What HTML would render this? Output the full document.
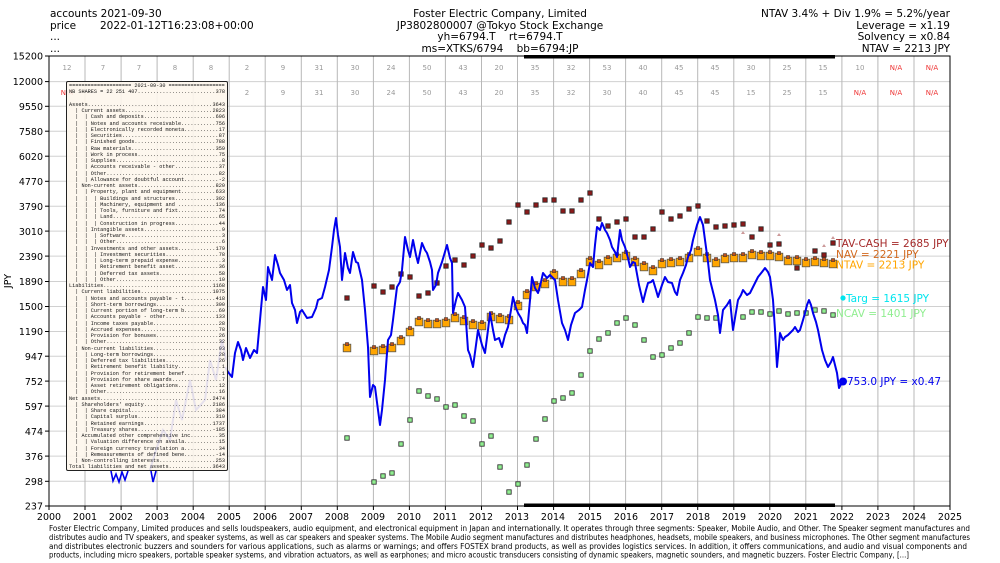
<!DOCTYPE html>
<html><head><meta charset="utf-8"><style>
html,body{margin:0;padding:0;background:#fff;width:1000px;height:563px;overflow:hidden}
svg{position:absolute;left:0;top:0}
#box{position:absolute;left:66px;top:81px;width:156px;height:386px;border:1px solid #222;border-radius:2px;background:rgba(253,246,236,0.9);padding:1px 2px;font-family:"Liberation Mono",monospace;font-size:5.2px;line-height:6.25px;color:#111;overflow:hidden}
.l{position:relative;white-space:nowrap;overflow:hidden;height:6.25px}
.v{position:absolute;right:0;top:0;background:rgb(253,246,236)}
</style></head><body>
<svg width="1000" height="563" xmlns="http://www.w3.org/2000/svg" font-family="DejaVu Sans, Liberation Sans, sans-serif">
<defs>
<rect id="r" x="-2.2" y="-2.2" width="4.4" height="4.4" fill="#8b1a1a" stroke="#222" stroke-width="0.8"/>
<rect id="g" x="-2.2" y="-2.2" width="4.4" height="4.4" fill="#90ee90" stroke="#222" stroke-width="0.8"/>
<g id="o"><rect x="-3.8" y="-3.8" width="7.6" height="7.6" fill="#ffa500" stroke="#555" stroke-width="0.8"/><rect x="-1.6" y="-5.5" width="3.2" height="3.2" fill="#c0501a" stroke="#333" stroke-width="0.5"/></g>
</defs>
<g stroke="#d0d0d0" stroke-width="1">
<line x1="49" x2="950" y1="81.6" y2="81.6"/><line x1="49" x2="950" y1="106.3" y2="106.3"/><line x1="49" x2="950" y1="131.2" y2="131.2"/><line x1="49" x2="950" y1="156.2" y2="156.2"/><line x1="49" x2="950" y1="181.3" y2="181.3"/><line x1="49" x2="950" y1="206.2" y2="206.2"/><line x1="49" x2="950" y1="231.1" y2="231.1"/><line x1="49" x2="950" y1="256.1" y2="256.1"/><line x1="49" x2="950" y1="281.5" y2="281.5"/><line x1="49" x2="950" y1="306.5" y2="306.5"/><line x1="49" x2="950" y1="331.5" y2="331.5"/><line x1="49" x2="950" y1="356.2" y2="356.2"/><line x1="49" x2="950" y1="381.1" y2="381.1"/><line x1="49" x2="950" y1="406.1" y2="406.1"/><line x1="49" x2="950" y1="431.1" y2="431.1"/><line x1="49" x2="950" y1="456.1" y2="456.1"/><line x1="49" x2="950" y1="481.3" y2="481.3"/>
</g>
<g stroke="#b8b8b8" stroke-width="1">
<line y1="56" y2="506" x1="85" x2="85"/><line y1="56" y2="506" x1="121.1" x2="121.1"/><line y1="56" y2="506" x1="157.1" x2="157.1"/><line y1="56" y2="506" x1="193.2" x2="193.2"/><line y1="56" y2="506" x1="229.2" x2="229.2"/><line y1="56" y2="506" x1="265.2" x2="265.2"/><line y1="56" y2="506" x1="301.3" x2="301.3"/><line y1="56" y2="506" x1="337.3" x2="337.3"/><line y1="56" y2="506" x1="373.4" x2="373.4"/><line y1="56" y2="506" x1="409.4" x2="409.4"/><line y1="56" y2="506" x1="445.4" x2="445.4"/><line y1="56" y2="506" x1="481.5" x2="481.5"/><line y1="56" y2="506" x1="517.5" x2="517.5"/><line y1="56" y2="506" x1="553.6" x2="553.6"/><line y1="56" y2="506" x1="589.6" x2="589.6"/><line y1="56" y2="506" x1="625.6" x2="625.6"/><line y1="56" y2="506" x1="661.7" x2="661.7"/><line y1="56" y2="506" x1="697.7" x2="697.7"/><line y1="56" y2="506" x1="733.8" x2="733.8"/><line y1="56" y2="506" x1="769.8" x2="769.8"/><line y1="56" y2="506" x1="805.8" x2="805.8"/><line y1="56" y2="506" x1="841.9" x2="841.9"/><line y1="56" y2="506" x1="877.9" x2="877.9"/><line y1="56" y2="506" x1="914" x2="914"/>
</g>
<g font-size="7" fill="#999" text-anchor="middle">
<text x="67" y="70">12</text><text x="103" y="70">7</text><text x="139" y="70">7</text><text x="175" y="70">8</text><text x="211" y="70">8</text><text x="247" y="70">2</text><text x="283" y="70">9</text><text x="319" y="70">31</text><text x="355" y="70">30</text><text x="391" y="70">24</text><text x="427" y="70">50</text><text x="463" y="70">43</text><text x="499" y="70">20</text><text x="535" y="70">35</text><text x="571" y="70">32</text><text x="607" y="70">53</text><text x="643" y="70">40</text><text x="679" y="70">45</text><text x="715" y="70">45</text><text x="751" y="70">30</text><text x="787" y="70">25</text><text x="823" y="70">15</text><text x="860" y="70">10</text><text x="896" y="70" fill="#e33">N/A</text><text x="932" y="70" fill="#e33">N/A</text>
<text x="67" y="95" fill="#e33">N/A</text><text x="247" y="95">2</text><text x="283" y="95">9</text><text x="319" y="95">31</text><text x="355" y="95">30</text><text x="391" y="95">24</text><text x="427" y="95">50</text><text x="463" y="95">43</text><text x="499" y="95">20</text><text x="535" y="95">35</text><text x="571" y="95">32</text><text x="607" y="95">30</text><text x="643" y="95">40</text><text x="679" y="95">45</text><text x="715" y="95">45</text><text x="751" y="95">15</text><text x="787" y="95">25</text><text x="823" y="95">15</text><text x="860" y="95" fill="#e33">N/A</text><text x="896" y="95" fill="#e33">N/A</text><text x="932" y="95" fill="#e33">N/A</text>
</g>
<rect x="524" y="55" width="311" height="3.5" fill="#000"/>
<rect x="524" y="503.5" width="311" height="3.5" fill="#000"/>
<polyline fill="none" stroke="#0000ee" stroke-width="1.6" points="111,471 113,481 116,474 119,482 122,472 125,480 128,471"/>
<polyline fill="none" stroke="#0000ee" stroke-width="1.6" points="151,471 153,482 156,471"/>
<g>
<use href="#g" x="347" y="438"/><use href="#g" x="374" y="482"/><use href="#g" x="383" y="476"/><use href="#g" x="392" y="473"/><use href="#g" x="401" y="444"/><use href="#g" x="410" y="420"/><use href="#g" x="419" y="391"/><use href="#g" x="428" y="396"/><use href="#g" x="437" y="399"/><use href="#g" x="446" y="407"/><use href="#g" x="455" y="405"/><use href="#g" x="464" y="416"/><use href="#g" x="473" y="421"/><use href="#g" x="482" y="444"/><use href="#g" x="491" y="436"/><use href="#g" x="500" y="467"/><use href="#g" x="509" y="492"/><use href="#g" x="518" y="484"/><use href="#g" x="527" y="465"/><use href="#g" x="536" y="439"/><use href="#g" x="545" y="419"/><use href="#g" x="554" y="401"/><use href="#g" x="563" y="398"/><use href="#g" x="572" y="393"/><use href="#g" x="581" y="375"/><use href="#g" x="590" y="351"/><use href="#g" x="599" y="339"/><use href="#g" x="608" y="333"/><use href="#g" x="617" y="323"/><use href="#g" x="626" y="318"/><use href="#g" x="635" y="325"/><use href="#g" x="644" y="340"/><use href="#g" x="653" y="357"/><use href="#g" x="662" y="355"/><use href="#g" x="671" y="348"/><use href="#g" x="680" y="343"/><use href="#g" x="689" y="333"/><use href="#g" x="698" y="317"/><use href="#g" x="707" y="318"/><use href="#g" x="716" y="318"/><use href="#g" x="743" y="317"/><use href="#g" x="752" y="312"/><use href="#g" x="761" y="312"/><use href="#g" x="770" y="314"/><use href="#g" x="779" y="311"/><use href="#g" x="788" y="314"/><use href="#g" x="797" y="313"/><use href="#g" x="806" y="313"/><use href="#g" x="815" y="310"/><use href="#g" x="824" y="311"/><use href="#g" x="833" y="315"/>
<use href="#r" x="347" y="298"/><use href="#r" x="374" y="286"/><use href="#r" x="383" y="292"/><use href="#r" x="392" y="287"/><use href="#r" x="401" y="274"/><use href="#r" x="410" y="277"/><use href="#r" x="419" y="296"/><use href="#r" x="428" y="293"/><use href="#r" x="437" y="283"/><use href="#r" x="446" y="266"/><use href="#r" x="455" y="260"/><use href="#r" x="464" y="265"/><use href="#r" x="473" y="256"/><use href="#r" x="482" y="245"/><use href="#r" x="491" y="248"/><use href="#r" x="500" y="241"/><use href="#r" x="509" y="222"/><use href="#r" x="518" y="205"/><use href="#r" x="527" y="212"/><use href="#r" x="536" y="205"/><use href="#r" x="545" y="200"/><use href="#r" x="554" y="200"/><use href="#r" x="563" y="211"/><use href="#r" x="572" y="211"/><use href="#r" x="581" y="200"/><use href="#r" x="590" y="193"/><use href="#r" x="599" y="219"/><use href="#r" x="608" y="226"/><use href="#r" x="617" y="222"/><use href="#r" x="626" y="219"/><use href="#r" x="635" y="237"/><use href="#r" x="644" y="237"/><use href="#r" x="653" y="229"/><use href="#r" x="662" y="212"/><use href="#r" x="671" y="219"/><use href="#r" x="680" y="216"/><use href="#r" x="689" y="209"/><use href="#r" x="698" y="206"/><use href="#r" x="707" y="221"/><use href="#r" x="716" y="227"/><use href="#r" x="725" y="226"/><use href="#r" x="734" y="225"/><use href="#r" x="743" y="224"/><use href="#r" x="752" y="237"/><use href="#r" x="761" y="229"/><use href="#r" x="770" y="245"/><use href="#r" x="779" y="244"/><use href="#r" x="797" y="268"/><use href="#r" x="815" y="251"/><use href="#r" x="824" y="255"/><use href="#r" x="833" y="243"/>
<g fill="#c99"><path d="M743 231l2 3h-4z"/><path d="M779 233l2 3h-4z"/><path d="M806 257l2 3h-4z"/><path d="M824 244l2 3h-4z"/><path d="M833 236l2 3h-4z"/></g>
<use href="#o" x="347" y="348"/><use href="#o" x="374" y="351"/><use href="#o" x="383" y="350"/><use href="#o" x="392" y="348"/><use href="#o" x="401" y="341"/><use href="#o" x="410" y="332"/><use href="#o" x="419" y="322"/><use href="#o" x="428" y="324"/><use href="#o" x="437" y="324"/><use href="#o" x="446" y="323"/><use href="#o" x="455" y="318"/><use href="#o" x="464" y="321"/><use href="#o" x="473" y="325"/><use href="#o" x="482" y="326"/><use href="#o" x="491" y="317"/><use href="#o" x="500" y="319"/><use href="#o" x="509" y="320"/><use href="#o" x="518" y="306"/><use href="#o" x="527" y="295"/><use href="#o" x="536" y="287"/><use href="#o" x="545" y="284"/><use href="#o" x="554" y="275"/><use href="#o" x="563" y="282"/><use href="#o" x="572" y="282"/><use href="#o" x="581" y="274"/><use href="#o" x="590" y="262"/><use href="#o" x="599" y="265"/><use href="#o" x="608" y="261"/><use href="#o" x="617" y="258"/><use href="#o" x="626" y="256"/><use href="#o" x="635" y="262"/><use href="#o" x="644" y="267"/><use href="#o" x="653" y="271"/><use href="#o" x="662" y="264"/><use href="#o" x="671" y="263"/><use href="#o" x="680" y="262"/><use href="#o" x="689" y="258"/><use href="#o" x="698" y="252"/><use href="#o" x="707" y="258"/><use href="#o" x="716" y="263"/><use href="#o" x="725" y="259"/><use href="#o" x="734" y="258"/><use href="#o" x="743" y="258"/><use href="#o" x="752" y="255"/><use href="#o" x="761" y="256"/><use href="#o" x="770" y="256"/><use href="#o" x="779" y="257"/><use href="#o" x="788" y="261"/><use href="#o" x="797" y="261"/><use href="#o" x="806" y="263"/><use href="#o" x="815" y="262"/><use href="#o" x="824" y="263"/><use href="#o" x="833" y="264"/>
</g>
<polyline fill="none" stroke="#0000ee" stroke-width="2" stroke-linejoin="round" points="225,367 228,372 232,377 235,353 238,342 241,350 243,360 246,348 250,358 254,350 257,353 260,320 263,287 266,300 268,267 272,280 275,255 278,265 280,273 284,280 287,290 290,285 292,303 295,310 297,323 300,312 302,310 307,318 312,317 316,308 318,300 322,298 325,287 329,270 332,247 334,230 336,218 338,235 340,247 342,280 345,253 348,268 350,273 353,252 356,262 358,263 362,280 365,310 368,347 370,397 373,385 375,387 378,410 380,425 382,410 385,380 388,340 391,335 393,320 397,287 400,282 402,270 405,237 408,250 410,257 413,240 416,255 418,263 422,243 425,250 427,253 430,262 432,270 433,290 436,285 438,273 442,262 447,245 450,258 452,263 453,313 456,300 458,293 462,300 465,307 468,350 470,355 473,367 476,345 478,330 482,345 485,353 488,330 490,313 493,330 495,340 499,338 502,347 505,335 508,327 511,310 513,297 516,308 518,313 521,318 523,323 525,325 527,333 530,300 532,277 535,288 538,293 541,282 543,273 547,278 550,275 553,278 555,280 558,300 562,323 565,330 568,340 571,325 575,313 579,310 582,307 585,290 587,280 590,263 593,267 595,245 597,227 600,230 602,223 605,230 607,233 610,240 612,247 615,252 617,257 620,230 622,240 625,247 628,258 630,267 633,262 635,263 639,285 643,302 646,290 648,283 651,282 653,280 656,290 658,297 662,285 665,277 668,282 672,283 675,292 677,295 680,280 683,273 686,265 688,257 691,250 693,240 697,225 700,217 703,225 705,240 708,262 710,280 713,292 715,300 718,315 720,333 723,310 727,305 730,300 733,330 736,312 738,300 741,295 743,290 747,295 750,293 754,285 758,277 762,272 765,268 768,272 770,277 773,300 775,330 777,367 779,345 780,333 783,340 785,337 788,335 790,333 793,330 795,327 798,332 800,330 803,320 805,313 807,305 809,300 811,305 813,313 816,322 818,330 820,340 822,350 825,360 828,367 831,362 833,357 835,365 837,373 839,388 841,384 843,382"/>
<circle cx="843" cy="381.5" r="4" fill="#0000ee"/>
<circle cx="843" cy="298" r="2.6" fill="#00e5ee"/>
<g font-size="10.5">
<text x="836" y="247" fill="#a52a2a">TAV-CASH = 2685 JPY</text>
<text x="836" y="258" fill="#d2691e">NAV = 2221 JPY</text>
<text x="836" y="268.5" fill="#ffa500">NTAV = 2213 JPY</text>
<text x="846" y="302" fill="#00e5ee">Targ = 1615 JPY</text>
<text x="836" y="317" fill="#90ee90">NCAV = 1401 JPY</text>
<text x="847" y="385" fill="#0000ee">753.0 JPY = x0.47</text>
</g>
<rect x="49" y="56" width="901" height="450" fill="none" stroke="#000" stroke-width="1"/>
<g stroke="#000"><line x1="45" x2="49" y1="56" y2="56"/><line x1="45" x2="49" y1="81.6" y2="81.6"/><line x1="45" x2="49" y1="106.3" y2="106.3"/><line x1="45" x2="49" y1="131.2" y2="131.2"/><line x1="45" x2="49" y1="156.2" y2="156.2"/><line x1="45" x2="49" y1="181.3" y2="181.3"/><line x1="45" x2="49" y1="206.2" y2="206.2"/><line x1="45" x2="49" y1="231.1" y2="231.1"/><line x1="45" x2="49" y1="256.1" y2="256.1"/><line x1="45" x2="49" y1="281.5" y2="281.5"/><line x1="45" x2="49" y1="306.5" y2="306.5"/><line x1="45" x2="49" y1="331.5" y2="331.5"/><line x1="45" x2="49" y1="356.2" y2="356.2"/><line x1="45" x2="49" y1="381.1" y2="381.1"/><line x1="45" x2="49" y1="406.1" y2="406.1"/><line x1="45" x2="49" y1="431.1" y2="431.1"/><line x1="45" x2="49" y1="456.1" y2="456.1"/><line x1="45" x2="49" y1="481.3" y2="481.3"/><line x1="45" x2="49" y1="506" y2="506"/></g>
<g font-size="9.5" text-anchor="end" fill="#000">
<text x="43" y="59.5">15200</text><text x="43" y="85">12000</text><text x="43" y="110">9550</text><text x="43" y="135">7580</text><text x="43" y="160">6020</text><text x="43" y="185">4770</text><text x="43" y="210">3790</text><text x="43" y="235">3010</text><text x="43" y="260">2390</text><text x="43" y="285">1890</text><text x="43" y="310">1500</text><text x="43" y="335">1190</text><text x="43" y="360">947</text><text x="43" y="385">752</text><text x="43" y="410">597</text><text x="43" y="435">474</text><text x="43" y="460">376</text><text x="43" y="485">298</text><text x="43" y="509.5">237</text>
</g>
<text x="11" y="281" font-size="9.5" text-anchor="middle" transform="rotate(-90 11 281)">JPY</text>
<g font-size="9.5" text-anchor="middle" fill="#000">
<text x="49" y="520">2000</text><text x="85" y="520">2001</text><text x="121" y="520">2002</text><text x="157" y="520">2003</text><text x="193" y="520">2004</text><text x="229" y="520">2005</text><text x="265" y="520">2006</text><text x="301" y="520">2007</text><text x="337" y="520">2008</text><text x="373" y="520">2009</text><text x="409" y="520">2010</text><text x="445" y="520">2011</text><text x="481" y="520">2012</text><text x="517" y="520">2013</text><text x="553" y="520">2014</text><text x="590" y="520">2015</text><text x="626" y="520">2016</text><text x="662" y="520">2017</text><text x="698" y="520">2018</text><text x="734" y="520">2019</text><text x="770" y="520">2020</text><text x="806" y="520">2021</text><text x="842" y="520">2022</text><text x="878" y="520">2023</text><text x="914" y="520">2024</text><text x="950" y="520">2025</text>
</g>
<g stroke="#000"><line y1="506" y2="510" x1="49" x2="49"/><line y1="506" y2="510" x1="85" x2="85"/><line y1="506" y2="510" x1="121.1" x2="121.1"/><line y1="506" y2="510" x1="157.1" x2="157.1"/><line y1="506" y2="510" x1="193.2" x2="193.2"/><line y1="506" y2="510" x1="229.2" x2="229.2"/><line y1="506" y2="510" x1="265.2" x2="265.2"/><line y1="506" y2="510" x1="301.3" x2="301.3"/><line y1="506" y2="510" x1="337.3" x2="337.3"/><line y1="506" y2="510" x1="373.4" x2="373.4"/><line y1="506" y2="510" x1="409.4" x2="409.4"/><line y1="506" y2="510" x1="445.4" x2="445.4"/><line y1="506" y2="510" x1="481.5" x2="481.5"/><line y1="506" y2="510" x1="517.5" x2="517.5"/><line y1="506" y2="510" x1="553.6" x2="553.6"/><line y1="506" y2="510" x1="589.6" x2="589.6"/><line y1="506" y2="510" x1="625.6" x2="625.6"/><line y1="506" y2="510" x1="661.7" x2="661.7"/><line y1="506" y2="510" x1="697.7" x2="697.7"/><line y1="506" y2="510" x1="733.8" x2="733.8"/><line y1="506" y2="510" x1="769.8" x2="769.8"/><line y1="506" y2="510" x1="805.8" x2="805.8"/><line y1="506" y2="510" x1="841.9" x2="841.9"/><line y1="506" y2="510" x1="877.9" x2="877.9"/><line y1="506" y2="510" x1="914" x2="914"/><line y1="506" y2="510" x1="950" x2="950"/></g>
<g font-size="7.6" fill="#000">
<text x="49" y="531" textLength="921" lengthAdjust="spacingAndGlyphs">Foster Electric Company, Limited produces and sells loudspeakers, audio equipment, and electronical equipment in Japan and internationally. It operates through three segments: Speaker, Mobile Audio, and Other. The Speaker segment manufactures and</text>
<text x="49" y="540" textLength="921" lengthAdjust="spacingAndGlyphs">distributes audio and TV speakers, and speaker systems, as well as car speakers and speaker systems. The Mobile Audio segment manufactures and distributes headphones, headsets, mobile speakers, and business microphones. The Other segment manufactures</text>
<text x="49" y="549" textLength="918" lengthAdjust="spacingAndGlyphs">and distributes electronic buzzers and sounders for various applications, such as alarms or warnings; and offers FOSTEX brand products, as well as provides logistics services. In addition, it offers communications, and audio and visual components and</text>
<text x="49" y="557.5" textLength="860" lengthAdjust="spacingAndGlyphs">products, including micro speakers, portable speaker systems, and vibration actuators, as well as earphones; and micro acoustic transducers consisting of dynamic speakers, magnetic sounders, and magnetic buzzers. Foster Electric Company, [...]</text>
</g>
<g font-size="10.5" fill="#000">
<text x="50" y="17">accounts 2021-09-30</text>
<text x="50" y="29">price</text><text x="100" y="29">2022-01-12T16:23:08+00:00</text>
<text x="50" y="40">...</text>
<text x="50" y="52">...</text>
</g>
<g font-size="10.5" fill="#000" text-anchor="middle">
<text x="500" y="17">Foster Electric Company, Limited</text>
<text x="500" y="29">JP3802800007 @Tokyo Stock Exchange</text>
<text x="500" y="40" xml:space="preserve">yh=6794.T    rt=6794.T</text>
<text x="500" y="52" xml:space="preserve">ms=XTKS/6794    bb=6794:JP</text>
</g>
<g font-size="10.5" fill="#000" text-anchor="end">
<text x="950" y="17">NTAV 3.4% + Div 1.9% = 5.2%/year</text>
<text x="950" y="29">Leverage = x1.19</text>
<text x="950" y="40">Solvency = x0.84</text>
<text x="950" y="52">NTAV = 2213 JPY</text>
</g>
</svg>
<div id="box">
<div class="l">==================== 2021-09-30 ====================</div>
<div class="l">NB SHARES = 22 251 407.............................<span class="v">378</span></div>
<div class="l">&nbsp;</div>
<div class="l">Assets..............................................<span class="v">3643</span></div>
<div class="l">&nbsp;&nbsp;| Current assets....................................<span class="v">2823</span></div>
<div class="l">&nbsp;&nbsp;| &nbsp;| Cash and deposits..............................<span class="v">696</span></div>
<div class="l">&nbsp;&nbsp;| &nbsp;| Notes and accounts receivable..................<span class="v">756</span></div>
<div class="l">&nbsp;&nbsp;| &nbsp;| Electronically recorded moneta.................<span class="v">17</span></div>
<div class="l">&nbsp;&nbsp;| &nbsp;| Securities.....................................<span class="v">87</span></div>
<div class="l">&nbsp;&nbsp;| &nbsp;| Finished goods.................................<span class="v">788</span></div>
<div class="l">&nbsp;&nbsp;| &nbsp;| Raw materials..................................<span class="v">359</span></div>
<div class="l">&nbsp;&nbsp;| &nbsp;| Work in process................................<span class="v">75</span></div>
<div class="l">&nbsp;&nbsp;| &nbsp;| Supplies.......................................<span class="v">8</span></div>
<div class="l">&nbsp;&nbsp;| &nbsp;| Accounts receivable - other....................<span class="v">37</span></div>
<div class="l">&nbsp;&nbsp;| &nbsp;| Other..........................................<span class="v">82</span></div>
<div class="l">&nbsp;&nbsp;| &nbsp;| Allowance for doubtful account.................<span class="v">-2</span></div>
<div class="l">&nbsp;&nbsp;| Non-current assets................................<span class="v">820</span></div>
<div class="l">&nbsp;&nbsp;| &nbsp;| Property, plant and equipment..................<span class="v">633</span></div>
<div class="l">&nbsp;&nbsp;| &nbsp;| &nbsp;| Buildings and structures....................<span class="v">302</span></div>
<div class="l">&nbsp;&nbsp;| &nbsp;| &nbsp;| Machinery, equipment and ...................<span class="v">136</span></div>
<div class="l">&nbsp;&nbsp;| &nbsp;| &nbsp;| Tools, furniture and fixt...................<span class="v">74</span></div>
<div class="l">&nbsp;&nbsp;| &nbsp;| &nbsp;| Land........................................<span class="v">65</span></div>
<div class="l">&nbsp;&nbsp;| &nbsp;| &nbsp;| Construction in progress....................<span class="v">44</span></div>
<div class="l">&nbsp;&nbsp;| &nbsp;| Intangible assets..............................<span class="v">9</span></div>
<div class="l">&nbsp;&nbsp;| &nbsp;| &nbsp;| Software....................................<span class="v">3</span></div>
<div class="l">&nbsp;&nbsp;| &nbsp;| &nbsp;| Other.......................................<span class="v">6</span></div>
<div class="l">&nbsp;&nbsp;| &nbsp;| Investments and other assets...................<span class="v">179</span></div>
<div class="l">&nbsp;&nbsp;| &nbsp;| &nbsp;| Investment securities.......................<span class="v">78</span></div>
<div class="l">&nbsp;&nbsp;| &nbsp;| &nbsp;| Long-term prepaid expense...................<span class="v">3</span></div>
<div class="l">&nbsp;&nbsp;| &nbsp;| &nbsp;| Retirement benefit asset....................<span class="v">36</span></div>
<div class="l">&nbsp;&nbsp;| &nbsp;| &nbsp;| Deferred tax assets.........................<span class="v">58</span></div>
<div class="l">&nbsp;&nbsp;| &nbsp;| &nbsp;| Other.......................................<span class="v">10</span></div>
<div class="l">Liabilities.........................................<span class="v">1168</span></div>
<div class="l">&nbsp;&nbsp;| Current liabilities...............................<span class="v">1075</span></div>
<div class="l">&nbsp;&nbsp;| &nbsp;| Notes and accounts payable - t.................<span class="v">418</span></div>
<div class="l">&nbsp;&nbsp;| &nbsp;| Short-term borrowings..........................<span class="v">300</span></div>
<div class="l">&nbsp;&nbsp;| &nbsp;| Current portion of long-term b.................<span class="v">69</span></div>
<div class="l">&nbsp;&nbsp;| &nbsp;| Accounts payable - other.......................<span class="v">133</span></div>
<div class="l">&nbsp;&nbsp;| &nbsp;| Income taxes payable...........................<span class="v">28</span></div>
<div class="l">&nbsp;&nbsp;| &nbsp;| Accrued expenses...............................<span class="v">78</span></div>
<div class="l">&nbsp;&nbsp;| &nbsp;| Provision for bonuses..........................<span class="v">26</span></div>
<div class="l">&nbsp;&nbsp;| &nbsp;| Other..........................................<span class="v">32</span></div>
<div class="l">&nbsp;&nbsp;| Non-current liabilities...........................<span class="v">93</span></div>
<div class="l">&nbsp;&nbsp;| &nbsp;| Long-term borrowings...........................<span class="v">28</span></div>
<div class="l">&nbsp;&nbsp;| &nbsp;| Deferred tax liabilities.......................<span class="v">26</span></div>
<div class="l">&nbsp;&nbsp;| &nbsp;| Retirement benefit liability...................<span class="v">1</span></div>
<div class="l">&nbsp;&nbsp;| &nbsp;| Provision for retirement benef.................<span class="v">1</span></div>
<div class="l">&nbsp;&nbsp;| &nbsp;| Provision for share awards.....................<span class="v">7</span></div>
<div class="l">&nbsp;&nbsp;| &nbsp;| Asset retirement obligations...................<span class="v">12</span></div>
<div class="l">&nbsp;&nbsp;| &nbsp;| Other..........................................<span class="v">16</span></div>
<div class="l">Net assets..........................................<span class="v">2474</span></div>
<div class="l">&nbsp;&nbsp;| Shareholders' equity..............................<span class="v">2186</span></div>
<div class="l">&nbsp;&nbsp;| &nbsp;| Share capital..................................<span class="v">384</span></div>
<div class="l">&nbsp;&nbsp;| &nbsp;| Capital surplus................................<span class="v">310</span></div>
<div class="l">&nbsp;&nbsp;| &nbsp;| Retained earnings..............................<span class="v">1737</span></div>
<div class="l">&nbsp;&nbsp;| &nbsp;| Treasury shares................................<span class="v">-185</span></div>
<div class="l">&nbsp;&nbsp;| Accumulated other comprehensive inc...............<span class="v">35</span></div>
<div class="l">&nbsp;&nbsp;| &nbsp;| Valuation difference on availa.................<span class="v">15</span></div>
<div class="l">&nbsp;&nbsp;| &nbsp;| Foreign currency translation a.................<span class="v">34</span></div>
<div class="l">&nbsp;&nbsp;| &nbsp;| Remeasurements of defined bene.................<span class="v">-14</span></div>
<div class="l">&nbsp;&nbsp;| Non-controlling interests.........................<span class="v">253</span></div>
<div class="l">Total liabilities and net assets....................<span class="v">3643</span></div>
</div>
<svg width="1000" height="563" style="pointer-events:none"><polyline fill="none" stroke="rgba(120,120,230,0.18)" stroke-width="2" points="150,470 156,450 163,430 170,440 176,400 182,420 190,380 196,410 205,400 210,360 216,380 222,340 226,360"/></svg>
</body></html>
